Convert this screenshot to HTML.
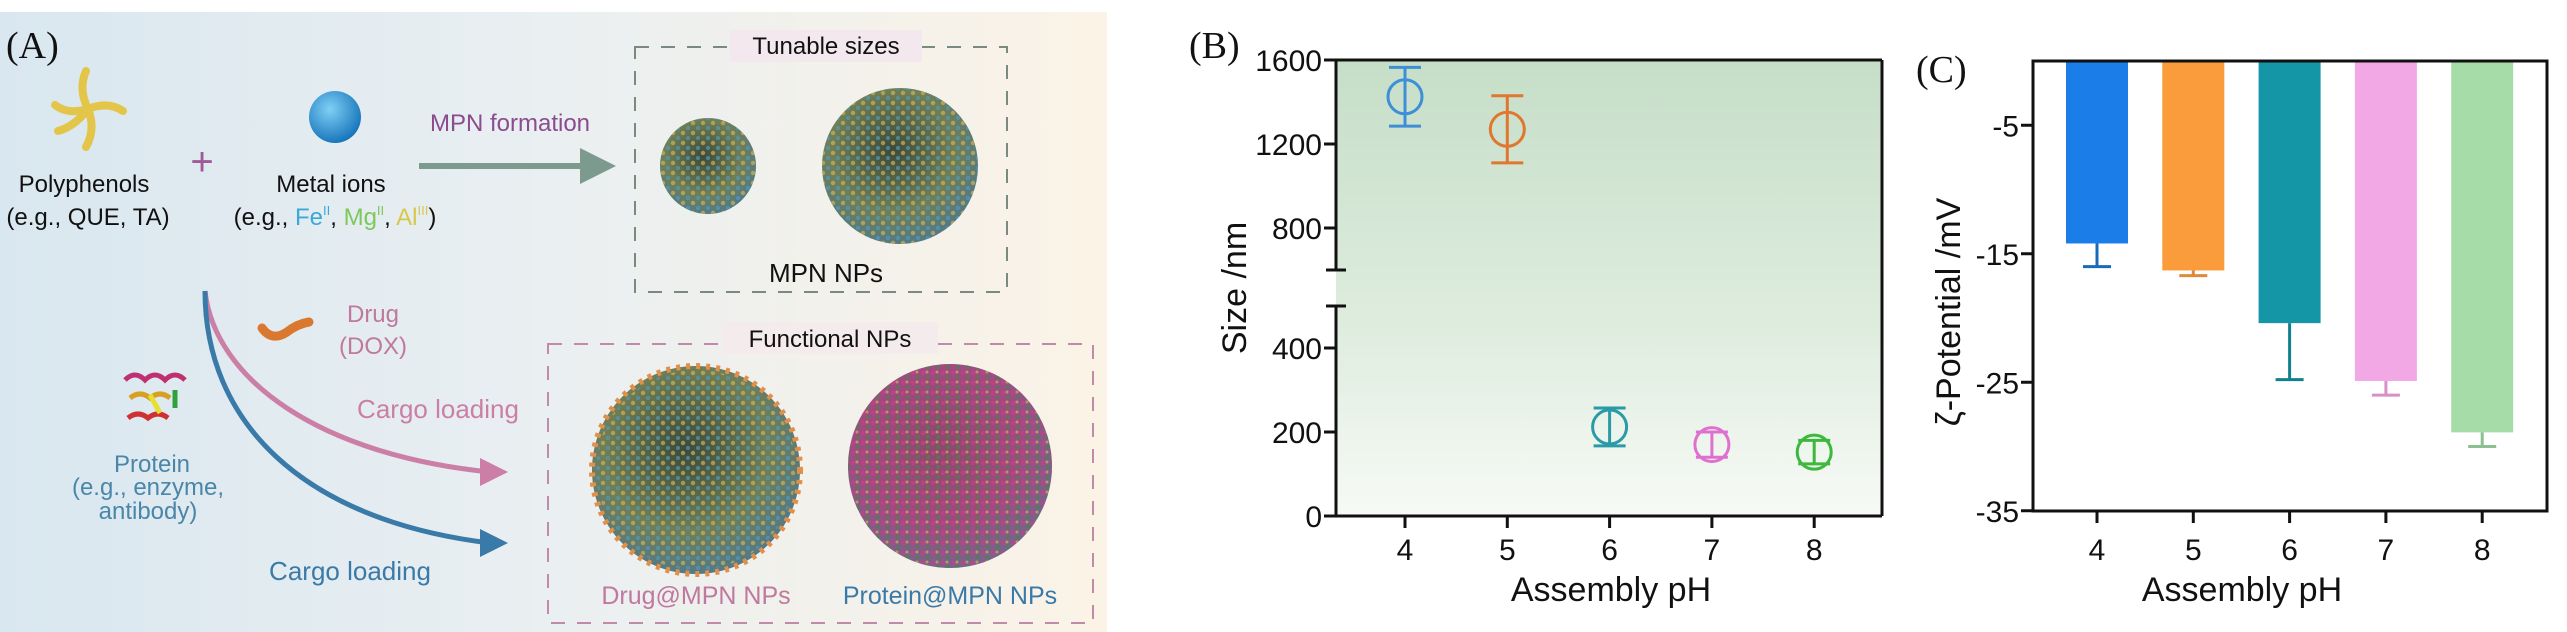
<!DOCTYPE html>
<html><head><meta charset="utf-8"><style>
html,body{margin:0;padding:0;background:#fff;width:2567px;height:632px;overflow:hidden}
svg{display:block;font-family:"Liberation Sans",sans-serif}
</style></head><body>
<svg id="fig" width="2567" height="632" viewBox="0 0 2567 632">
<defs>
<linearGradient id="bgA" x1="0" x2="1" y1="0" y2="0"><stop offset="0" stop-color="#d9e7f0"/><stop offset="0.5" stop-color="#eaeff1"/><stop offset="1" stop-color="#fbf3e6"/></linearGradient>
<linearGradient id="bgB" x1="0" x2="0" y1="0" y2="1"><stop offset="0" stop-color="#c6dec8"/><stop offset="0.6" stop-color="#dfeddf"/><stop offset="1" stop-color="#f7faf6"/></linearGradient>
<radialGradient id="metal" cx="0.4" cy="0.35" r="0.7"><stop offset="0" stop-color="#7fd0f5"/><stop offset="1" stop-color="#1270b8"/></radialGradient>
<radialGradient id="mpn" cx="0.45" cy="0.4" r="0.65"><stop offset="0" stop-color="#3c4a3a"/><stop offset="0.6" stop-color="#6f7e55"/><stop offset="1" stop-color="#4e7990"/></radialGradient>
<radialGradient id="prot" cx="0.45" cy="0.4" r="0.65"><stop offset="0" stop-color="#8a4a6a"/><stop offset="0.6" stop-color="#a04a80"/><stop offset="1" stop-color="#6d6a8a"/></radialGradient>
<pattern id="dots" width="10" height="10" patternUnits="userSpaceOnUse"><circle cx="3" cy="3" r="2.2" fill="#c9b45a" opacity="0.7"/><circle cx="8" cy="8" r="2" fill="#4f9ac0" opacity="0.7"/></pattern>
<pattern id="pdots" width="10" height="10" patternUnits="userSpaceOnUse"><circle cx="3" cy="3" r="2.2" fill="#d03a8a" opacity="0.7"/><circle cx="8" cy="7" r="2" fill="#3b8a4a" opacity="0.6"/><circle cx="7" cy="2" r="1.5" fill="#c9b45a" opacity="0.7"/></pattern>
<marker id="ahG" markerWidth="6" markerHeight="6" refX="3" refY="3" orient="auto"><path d="M0,0 L6,3 L0,6 z" fill="#7d9a8f"/></marker>
</defs>

<!-- Panel A -->
<g>
<rect x="0" y="12" width="1107" height="620" fill="url(#bgA)"/>
<text x="6" y="58" font-family="Liberation Serif,serif" font-size="38" fill="#111">(A)</text>
<g stroke="#e3c54a" stroke-width="8" fill="none" stroke-linecap="round">
<path d="M88,109 q-10,-20 -2,-38"/><path d="M88,109 q20,-8 35,2"/><path d="M88,109 q8,20 -2,38"/><path d="M88,109 q-20,6 -33,-4"/><path d="M88,109 q-14,18 -30,22"/>
</g>
<text x="202" y="175" font-size="40" fill="#a05a9a" text-anchor="middle">+</text>
<circle cx="335" cy="117" r="26" fill="url(#metal)"/>
<g font-size="24" fill="#111" text-anchor="middle">
<text x="84" y="192">Polyphenols</text>
<text x="88" y="225">(e.g., QUE, TA)</text>
<text x="331" y="192">Metal ions</text>
<text x="335" y="225">(e.g., <tspan fill="#3aa9d8">Fe<tspan font-size="13" dy="-10">II</tspan></tspan><tspan dy="10">, </tspan><tspan fill="#7cc85a">Mg<tspan font-size="13" dy="-10">II</tspan></tspan><tspan dy="10">, </tspan><tspan fill="#d8c84a">Al<tspan font-size="13" dy="-10">III</tspan></tspan><tspan dy="10">)</tspan></text>
</g>
<text x="510" y="131" font-size="24" fill="#8a4b8f" text-anchor="middle">MPN formation</text>
<line x1="419" y1="166" x2="598" y2="166" stroke="#7d9a8f" stroke-width="6" marker-end="url(#ahG)"/>
<rect x="635" y="47" width="372" height="245" fill="none" stroke="#7a8a80" stroke-width="2" stroke-dasharray="14,12"/>
<rect x="730" y="30" width="192" height="32" fill="#f3e8ee"/>
<text x="826" y="54" font-size="24" fill="#111" text-anchor="middle">Tunable sizes</text>
<circle cx="708" cy="166" r="48" fill="url(#mpn)"/>
<circle cx="708" cy="166" r="48" fill="url(#dots)"/>
<circle cx="900" cy="166" r="78" fill="url(#mpn)"/>
<circle cx="900" cy="166" r="78" fill="url(#dots)"/>
<text x="826" y="282" font-size="26" fill="#111" text-anchor="middle">MPN NPs</text>
<path d="M262,328 q10,14 25,4 q10,-8 22,-10" stroke="#d9782e" stroke-width="9" fill="none" stroke-linecap="round"/>
<text x="373" y="322" font-size="24" fill="#c0789e" text-anchor="middle">Drug</text>
<text x="373" y="354" font-size="24" fill="#c0789e" text-anchor="middle">(DOX)</text>
<g fill="none" stroke-width="5">
<path d="M125,380 q10,-10 20,0 q10,-10 20,0 q10,-10 20,0" stroke="#c03070"/>
<path d="M130,398 q10,-8 20,0 q10,-8 20,0" stroke="#d8a020"/>
<path d="M128,418 q10,-8 20,0 q10,-8 20,0" stroke="#d03030"/>
<path d="M150,395 l10,18" stroke="#e8e030"/><path d="M175,390 l0,18" stroke="#30a040"/>
</g>
<g font-size="24" fill="#4a86a8" text-anchor="middle">
<text x="152" y="472">Protein</text>
<text x="148" y="495">(e.g., enzyme,</text>
<text x="148" y="519">antibody)</text>
</g>
<path d="M205,291 C215,380 320,455 490,472" stroke="#cc7fa6" stroke-width="5" fill="none"/>
<path d="M480,458 L508,472 L480,486 z" fill="#cc7fa6"/>
<path d="M205,291 C205,420 300,520 490,543" stroke="#3a7aa8" stroke-width="5" fill="none"/>
<path d="M480,529 L508,543 L480,557 z" fill="#3a7aa8"/>
<text x="438" y="418" font-size="26" fill="#cc7fa6" text-anchor="middle">Cargo loading</text>
<text x="350" y="580" font-size="26" fill="#3a7aa8" text-anchor="middle">Cargo loading</text>
<rect x="548" y="344" width="545" height="279" fill="none" stroke="#c08aa8" stroke-width="2" stroke-dasharray="14,12"/>
<rect x="722" y="322" width="216" height="32" fill="#f4ecec"/>
<text x="830" y="347" font-size="24" fill="#111" text-anchor="middle">Functional NPs</text>
<circle cx="696" cy="470" r="104" fill="url(#mpn)" stroke="#e0904a" stroke-width="6" stroke-dasharray="4,6"/>
<circle cx="696" cy="470" r="100" fill="url(#dots)"/>
<circle cx="950" cy="466" r="102" fill="url(#prot)"/>
<circle cx="950" cy="466" r="102" fill="url(#pdots)"/>
<text x="696" y="604" font-size="25" fill="#c0789e" text-anchor="middle">Drug@MPN NPs</text>
<text x="950" y="604" font-size="25" fill="#3a7aa8" text-anchor="middle">Protein@MPN NPs</text>
</g>

<!-- Panel B -->
<g id="panelB">
<text x="1189" y="58" font-family="Liberation Serif,serif" font-size="38" fill="#111">(B)</text>
<rect x="1336" y="60" width="546" height="456" fill="url(#bgB)"/>
<text transform="translate(1246,288) rotate(-90)" font-size="34" text-anchor="middle" fill="#111">Size /nm</text>
<text x="1611" y="601" font-size="34" text-anchor="middle" fill="#111">Assembly pH</text>
</g>

<!-- Panel C -->
<g id="panelC">
<text x="1916" y="82" font-family="Liberation Serif,serif" font-size="38" fill="#111">(C)</text>
<text transform="translate(1960,312) rotate(-90)" font-size="34" text-anchor="middle" fill="#111">ζ-Potential /mV</text>
<text x="2242" y="601" font-size="34" text-anchor="middle" fill="#111">Assembly pH</text>
</g>
</svg>
<script>
const NS='http://www.w3.org/2000/svg';
// Panel B data
const bCategories=[4,5,6,7,8];
const bSizes=[1425,1270,212,170,152];
const bErrors=[140,160,45,30,28];
const bColors=['#3d8fd6','#e0772e','#2a9aa8','#e070d0','#3cb83c'];
const bTicks=[0,200,400,800,1200,1600];
// Panel C data
const cCategories=[4,5,6,7,8];
const cZeta=[-14.2,-16.3,-20.4,-24.9,-28.9];
const cErrors=[1.8,0.4,4.4,1.1,1.1];
const cColors=['#1a7de8','#fa9c3c','#1596a6','#f2a8e4','#a6dca8'];
const cErrColors=['#1a6ab8','#e0893a','#13808e','#d890c8','#8cc090'];
const cTicks=[-5,-15,-25,-35];

function mk(tag,attrs,parent){const e=document.createElementNS(NS,tag);for(const k in attrs)e.setAttribute(k,attrs[k]);parent.appendChild(e);return e;}

// Panel B axes
const gB=document.getElementById('panelB');
const bX=v=>1405+(v-4)*102.3;
function bY(v){return v>=600?270-(v-600)*0.21:516-v*0.42;}
let e;
e=mk('line',{x1:1882,y1:60,x2:1882,y2:516,stroke:'#111','stroke-width':3},gB);


e=mk('line',{x1:1336,y1:60,x2:1882,y2:60,stroke:'#111','stroke-width':3},gB);


e=mk('line',{x1:1336,y1:516,x2:1882,y2:516,stroke:'#111','stroke-width':3},gB);


e=mk('line',{x1:1336,y1:60,x2:1336,y2:bY(600),stroke:'#111','stroke-width':3},gB);


e=mk('line',{x1:1336,y1:bY(500),x2:1336,y2:516,stroke:'#111','stroke-width':3},gB);


[600,500].forEach(v=>{
  e=mk('line',{x1:1326,y1:bY(v),x2:1346,y2:bY(v),stroke:'#111','stroke-width':3},gB);
  
  
});
bTicks.forEach(t=>{
  e=mk('line',{x1:1324,y1:bY(t),x2:1336,y2:bY(t),stroke:'#111','stroke-width':3},gB);
  
  
  e=mk('text',{x:1322,y:bY(t)+11,'font-size':30,'text-anchor':'end',fill:'#111'},gB);
  e.textContent=t;
  
  
});
bCategories.forEach((c,i)=>{
  const x=bX(c);
  e=mk('line',{x1:x,y1:516,x2:x,y2:528,stroke:'#111','stroke-width':3},gB);
  
  
  e=mk('text',{x:x,y:560,'font-size':30,'text-anchor':'middle',fill:'#111'},gB);
  e.textContent=c;
  
  
  const y=bY(bSizes[i]),yt=bY(bSizes[i]+bErrors[i]),yb=bY(bSizes[i]-bErrors[i]);
  const g=mk('g',{stroke:bColors[i],'stroke-width':3,fill:'none'},gB);
  
  
  mk('line',{x1:x,y1:yt,x2:x,y2:yb},g);
  mk('line',{x1:x-16,y1:yt,x2:x+16,y2:yt},g);
  mk('line',{x1:x-16,y1:yb,x2:x+16,y2:yb},g);
  mk('circle',{cx:x,cy:y,r:17},g);
});

// Panel C
const gC=document.getElementById('panelC');
const cX=v=>2097+(v-4)*96.3;
const cY=v=>61-v*12.85;
cCategories.forEach((c,i)=>{
  const x=cX(c);
  e=mk('rect',{x:x-31,y:cY(0),width:62,height:cY(cZeta[i])-cY(0),fill:cColors[i]},gC);
  
  
  const ye=cY(cZeta[i]-cErrors[i]);
  const g=mk('g',{stroke:cErrColors[i],'stroke-width':3},gC);
  
  
  mk('line',{x1:x,y1:cY(cZeta[i]),x2:x,y2:ye},g);
  mk('line',{x1:x-14,y1:ye,x2:x+14,y2:ye},g);
  e=mk('line',{x1:x,y1:511,x2:x,y2:523,stroke:'#111','stroke-width':3},gC);
  
  
  e=mk('text',{x:x,y:560,'font-size':30,'text-anchor':'middle',fill:'#111'},gC);
  e.textContent=c;
  
  
});
e=mk('rect',{x:2033,y:61,width:514,height:450,fill:'none',stroke:'#111','stroke-width':3},gC);


cTicks.forEach(t=>{
  e=mk('line',{x1:2021,y1:cY(t),x2:2033,y2:cY(t),stroke:'#111','stroke-width':3},gC);
  
  
  e=mk('text',{x:2019,y:cY(t)+11,'font-size':30,'text-anchor':'end',fill:'#111'},gC);
  e.textContent=t;
  
  
});
</script>
</body></html>
